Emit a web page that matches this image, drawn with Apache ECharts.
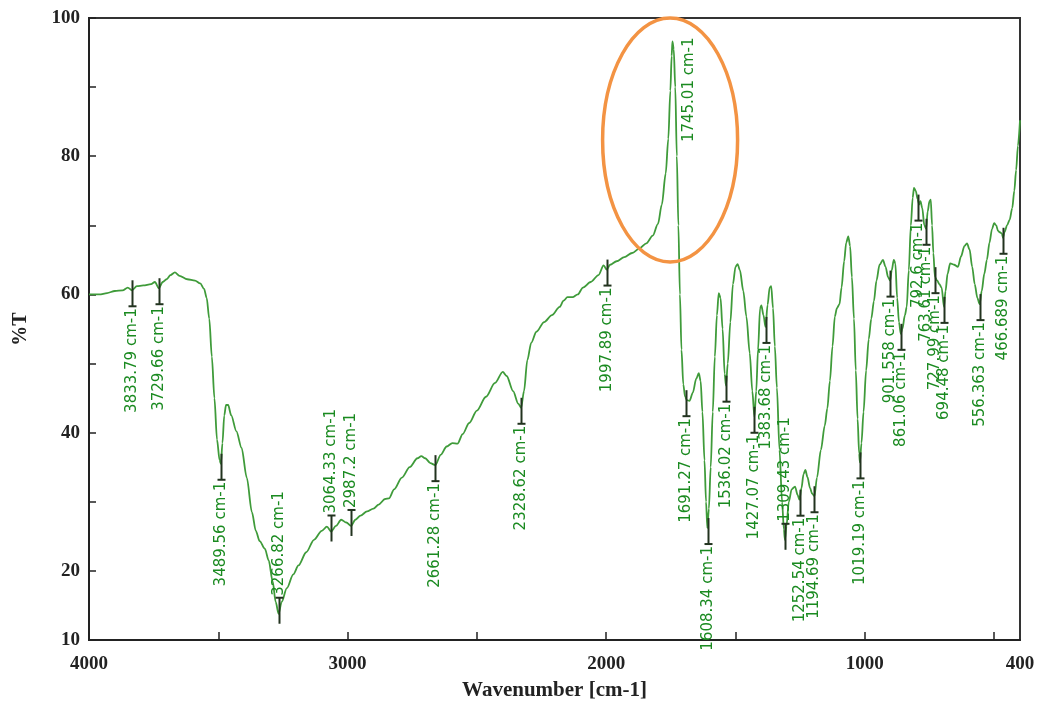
<!DOCTYPE html>
<html>
<head>
<meta charset="UTF-8">
<title>FTIR spectrum</title>
<script src="https://cdn.jsdelivr.net/npm/echarts@6/dist/echarts.min.js"></script>
<style>
html, body { margin: 0; padding: 0; background: #fff; }
#chart { width: 1042px; height: 706px; }
</style>
</head>
<body>
<div id="chart"></div>
<script>
// spectrum (wavenumber cm-1, %T)
var wavenumber = [4000,3960,3930,3900,3870,3850,3834,3815,3790,3760,3745,3730,3715,3700,3685,3668,3650,3620,3590,3570,
  3555,3545,3535,3525,3515,3505,3495,3490,3484,3477,3470,3462,3450,3430,3410,3390,3370,3355,3340,3320,
  3305,3290,3278,3267,3255,3235,3210,3190,3160,3130,3100,3080,3064,3045,3025,3005,2987,2970,2950,2925,
  2900,2880,2855,2840,2820,2790,2760,2730,2715,2700,2680,2661,2640,2617,2595,2575,2555,2530,2500,2465,
  2430,2400,2385,2360,2340,2329,2318,2305,2290,2270,2240,2210,2180,2165,2150,2130,2110,2090,2060,2030,
  2010,1998,1985,1960,1930,1900,1870,1845,1820,1800,1785,1770,1760,1752,1747,1744,1739,1733,1727,1721,
  1715,1709,1702,1695,1688,1678,1665,1652,1642,1635,1628,1620,1614,1609,1603,1596,1588,1580,1572,1565,
  1558,1550,1542,1537,1530,1520,1510,1500,1492,1483,1470,1458,1445,1435,1427,1420,1413,1405,1400,1392,
  1384,1376,1368,1362,1355,1348,1340,1330,1320,1313,1309,1303,1294,1283,1270,1260,1253,1245,1237,1230,
  1222,1212,1204,1195,1185,1170,1155,1145,1135,1125,1116,1108,1098,1090,1080,1072,1064,1057,1050,1042,
  1035,1028,1022,1019,1013,1005,995,985,975,965,955,943,930,920,910,902,896,888,882,875,
  868,861,855,845,838,830,822,815,810,803,796,790,785,778,770,763,757,750,745,740,
  735,729,720,712,703,694,688,680,670,655,640,628,615,605,595,585,575,565,556,548,
  538,528,518,508,500,492,485,478,470,466,460,450,440,430,422,415,408,400];
var transmittance = [60.0,60.0,60.2,60.5,60.6,61.0,60.6,61.2,61.3,61.5,61.8,60.9,61.8,62.2,62.8,63.2,62.7,62.2,62.0,61.6,
  60.8,59.5,56.5,51.0,45.0,39.0,36.0,35.5,38.5,42.5,44.0,44.0,42.5,40.2,37.8,33.5,28.5,25.8,24.3,23.2,
  21.5,18.5,15.5,13.8,15.5,17.5,19.5,20.8,22.7,24.5,25.8,26.4,25.7,26.5,27.4,27.0,26.5,27.4,28.0,28.6,
  29.0,29.6,30.4,30.5,31.8,33.5,35.0,36.3,36.6,36.3,35.6,35.3,36.8,38.0,38.5,38.4,39.8,41.4,43.2,45.2,
  47.2,48.8,48.2,46.0,44.2,43.6,46.0,50.5,53.0,54.6,56.0,57.0,58.2,59.1,59.6,59.6,60.0,61.0,61.8,62.8,
  64.2,63.6,64.3,64.8,65.4,66.0,66.7,67.4,68.5,70.2,73.0,77.5,82.5,89.5,94.5,96.6,95.5,90.0,80.0,70.0,
  60.0,52.0,47.0,45.2,44.7,44.6,45.8,47.8,48.6,47.5,43.0,36.0,30.0,26.2,29.0,35.0,43.0,51.0,57.0,60.2,
  59.5,55.0,48.5,46.8,50.0,56.0,61.5,64.0,64.4,63.5,60.5,56.8,51.5,46.0,42.3,46.0,52.0,58.0,58.4,57.0,
  55.3,58.5,61.0,61.2,58.0,52.5,46.5,37.5,30.0,26.0,24.5,26.5,30.0,31.8,32.2,31.0,30.3,32.0,34.0,34.6,
  33.6,32.0,31.2,30.8,33.5,37.5,41.0,43.5,47.5,52.5,56.8,58.0,58.6,61.0,64.8,67.5,68.4,67.0,62.5,56.5,
  49.0,42.0,37.0,35.7,38.5,43.0,49.0,53.5,56.5,59.0,62.0,64.3,65.0,64.0,62.5,62.0,63.5,65.0,64.5,59.5,
  56.0,54.3,55.0,57.0,58.2,63.5,70.0,74.0,75.4,75.0,73.8,73.0,73.5,72.5,70.0,69.5,72.0,73.5,73.7,70.0,
  66.0,62.5,62.0,61.5,61.0,58.2,60.5,63.0,64.5,64.3,64.0,65.5,67.0,67.4,66.5,64.0,61.5,59.5,58.6,60.5,
  63.0,65.0,67.5,69.5,70.3,70.0,69.2,69.0,68.8,68.2,69.0,70.0,70.8,72.5,75.0,78.0,81.5,85.2];

// marked peaks
var peakWn = [3833.79,3729.66,3489.56,3266.82,3064.33,2987.2,2661.28,2328.62,1997.89,1745.01,1691.27,1608.34,1536.02,
  1427.07,1383.68,1309.43,1252.54,1194.69,1019.19,901.558,861.06,792.6,763.61,727.99,694.48,556.363,466.689];
var peakT = [60.6,60.9,35.5,13.8,25.7,26.5,35.3,43.6,63.6,96.6,44.7,26.2,46.8,
  42.3,55.3,24.5,30.3,30.8,35.7,62.0,54.3,73.0,69.5,62.5,58.2,58.6,68.2];
var peakText = ['3833.79 cm-1','3729.66 cm-1','3489.56 cm-1','3266.82 cm-1','3064.33 cm-1','2987.2 cm-1',
  '2661.28 cm-1','2328.62 cm-1','1997.89 cm-1','1745.01 cm-1','1691.27 cm-1','1608.34 cm-1','1536.02 cm-1',
  '1427.07 cm-1','1383.68 cm-1','1309.43 cm-1','1252.54 cm-1','1194.69 cm-1','1019.19 cm-1','901.558 cm-1',
  '861.06 cm-1','792.6 cm-1','763.61 cm-1','727.99 cm-1','694.48 cm-1','556.363 cm-1','466.689 cm-1'];

// highlighted region (the orange ring)
var ringWn = [1753];
var ringT = [82.35];
var ringHalfWn = [261];
var ringHalfT = [17.65];

// axis ticks
var xTicks = [4000,3500,3000,2500,2000,1500,1000,500];
var xLabels = [4000,3000,2000,1000,400];
var yTicks = [10,20,30,40,50,60,70,80,90,100];
var yLabels = [10,20,40,60,80,100];

// label side: b = below mark, a = above mark, r = right of peak
var peakSide = ['b','b','b','a','a','a','b','b','b','r','b','b','b','b','b','a','b','b','b','b','b','b','b','b','b','b','b'];

var lineColor = '#3f9b3a';
var labelColor = '#1a8a20';
var markColor = '#22331f';
var labelFont = '15px "DejaVu Sans"';
var axisFont = { fontFamily: 'Liberation Serif', fontWeight: 'bold', color: '#222' };

var spectrum = [];
for (var i = 0; i < wavenumber.length; i++) {
  spectrum.push([wavenumber[i], transmittance[i]]);
}
var peaks = [];
for (var j = 0; j < peakWn.length; j++) {
  peaks.push([peakWn[j], peakT[j]]);
}
var ring = [];
for (var k = 0; k < ringWn.length; k++) {
  ring.push([ringWn[k], ringT[k], ringHalfWn[k], ringHalfT[k]]);
}

function renderPeak(params, api) {
  var i = params.dataIndex;
  var p = api.coord([api.value(0), api.value(1)]);
  var x = Math.round(p[0]) + 0.5;
  var y = p[1];
  var side = peakSide[i];
  var kids = [];
  if (side === 'r') {
    kids.push({
      type: 'text', x: x + 17, y: y - 4, rotation: Math.PI / 2,
      style: { text: peakText[i], fill: labelColor, font: labelFont, align: 'right', verticalAlign: 'middle' }
    });
    return { type: 'group', children: kids };
  }
  var y1, y2, cap, ty, align;
  if (side === 'b') {
    y1 = y - 10; y2 = y + 16; cap = y2; ty = y2 + 2; align = 'right';
  } else {
    y1 = y - 16; y2 = y + 10; cap = y1; ty = y1 - 2; align = 'left';
  }
  kids.push({ type: 'line', shape: { x1: x, y1: y1, x2: x, y2: y2 }, style: { stroke: markColor, lineWidth: 2 } });
  kids.push({ type: 'line', shape: { x1: x - 4, y1: cap, x2: x + 4, y2: cap }, style: { stroke: markColor, lineWidth: 2 } });
  kids.push({
    type: 'text', x: x, y: ty, rotation: Math.PI / 2,
    style: { text: peakText[i], fill: labelColor, font: labelFont, align: align, verticalAlign: 'middle' }
  });
  return { type: 'group', children: kids };
}

function renderRing(params, api) {
  var c = api.coord([api.value(0), api.value(1)]);
  var s = api.size([api.value(2), api.value(3)]);
  return {
    type: 'ellipse',
    shape: { cx: c[0], cy: c[1], rx: s[0], ry: s[1] },
    style: { fill: 'none', stroke: '#f39343', lineWidth: 3.5 }
  };
}

var myChart = echarts.init(document.getElementById('chart'));
var option = {
  animation: false,
  backgroundColor: '#fff',
  grid: { left: 89, right: 22, top: 18, bottom: 66, show: true, borderColor: '#333', borderWidth: 2 },
  xAxis: {
    type: 'value', inverse: true, min: 400, max: 4000,
    name: 'Wavenumber [cm-1]', nameLocation: 'middle', nameGap: 40,
    nameTextStyle: { fontFamily: 'Liberation Serif', fontWeight: 'bold', fontSize: 21, color: '#222' },
    axisLine: { lineStyle: { color: '#222', width: 2 } },
    axisTick: { inside: true, length: 8, customValues: xTicks, lineStyle: { color: '#222', width: 1.5 } },
    axisLabel: {
      customValues: xLabels, margin: 15, fontSize: 19,
      fontFamily: axisFont.fontFamily, fontWeight: axisFont.fontWeight, color: axisFont.color,
      formatter: function (v) { return String(v); }
    },
    splitLine: { show: false }
  },
  yAxis: {
    type: 'value', min: 10, max: 100,
    name: '%T', nameLocation: 'middle', nameGap: 58,
    nameTextStyle: { fontFamily: 'Liberation Serif', fontWeight: 'bold', fontSize: 20, color: '#222' },
    axisLine: { lineStyle: { color: '#222', width: 2 } },
    axisTick: { inside: true, length: 7, customValues: yTicks, lineStyle: { color: '#222', width: 1.5 } },
    axisLabel: {
      customValues: yLabels, margin: 9, fontSize: 19,
      fontFamily: axisFont.fontFamily, fontWeight: axisFont.fontWeight, color: axisFont.color
    },
    splitLine: { show: false }
  },
  series: [
    {
      type: 'line', data: spectrum, showSymbol: false, smooth: 0.3, smoothMonotone: 'x',
      lineStyle: { color: lineColor, width: 1.8 }, z: 2, silent: true
    },
    {
      type: 'custom', data: peaks, renderItem: renderPeak, clip: false, z: 3, silent: true,
      encode: { x: 0, y: 1 }
    },
    {
      type: 'custom', data: ring, renderItem: renderRing, clip: false, z: 4, silent: true,
      encode: { x: 0, y: 1 }
    }
  ]
};
myChart.setOption(option);
</script>
</body>
</html>
